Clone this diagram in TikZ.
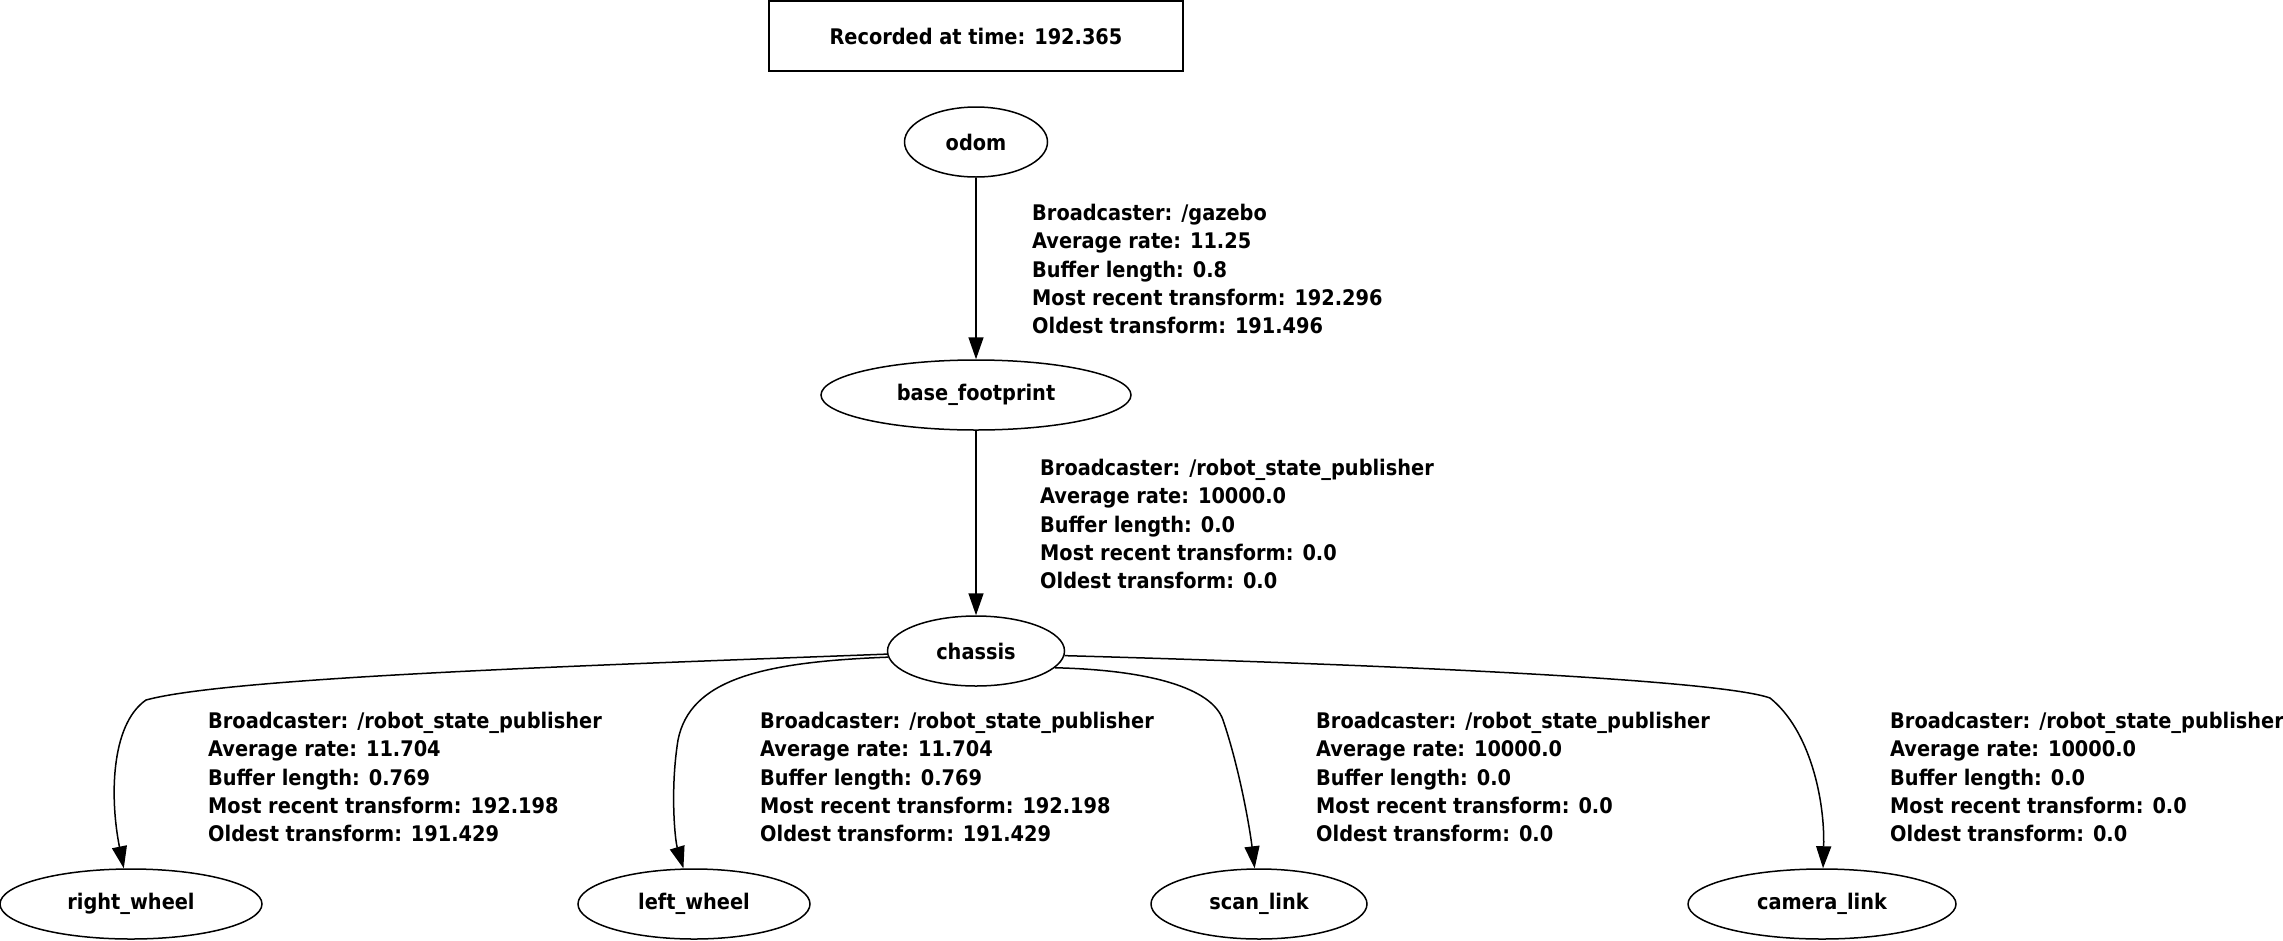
\documentclass[tikz,border=0pt]{standalone}
\usepackage{fontspec}
\setmainfont{DejaVu Sans Condensed Bold}
\usetikzlibrary{shapes.geometric,arrows.meta}
\tikzset{
  gv/.style={font=\fontsize{21.5}{28.4}\selectfont},
  frame/.style={ellipse,draw,line width=1.5pt,inner sep=0pt,minimum height=70pt,gv},
  lbl/.style={anchor=west,align=left,inner sep=0pt,gv},
  edge/.style={line width=1.5pt,-{Triangle[length=22pt,width=15pt]}},
  stamp/.style={rectangle,draw,line width=1.5pt,minimum width=414pt,minimum height=70pt,inner sep=0pt,gv}
}
\begin{document}
\begin{tikzpicture}[x=1pt,y=-1pt]
\useasboundingbox (0,0) rectangle (2283,940);
\node[stamp] (rec) at (976,36) {Recorded at time: 192.365};
\node[frame,minimum width=143pt] (odom) at (976,142) {odom};
\node[frame,minimum width=310pt] (bf) at (976,395) {base\_footprint};
\node[frame,minimum width=177pt] (chassis) at (976,651) {chassis};
\node[frame,minimum width=262pt] (rw) at (131,904) {right\_wheel};
\node[frame,minimum width=232pt] (lw) at (694,904) {left\_wheel};
\node[frame,minimum width=216pt] (sl) at (1259,904) {scan\_link};
\node[frame,minimum width=268pt] (cl) at (1822,904) {camera\_link};

\draw[edge] (odom) -- (bf);
\draw[edge] (bf) -- (chassis);
\draw[edge] (chassis.182) .. controls (600,665) and (230,677) .. (146,700) .. controls (110,725) and (110,800) .. (rw);
\draw[edge] (chassis.184) .. controls (760,662) and (690,680) .. (678,740) .. controls (670,790) and (675,840) .. (lw);
\draw[edge] (chassis.-12) .. controls (1150,670) and (1212,688) .. (1223,720) .. controls (1240,770) and (1250,830) .. (sl);
\draw[edge] (chassis.-3) .. controls (1400,665) and (1720,680) .. (1770,698) .. controls (1810,730) and (1825,800) .. (cl);

\node[lbl] (l1) at (1032,269) {Broadcaster: /gazebo\\Average rate: 11.25\\Buffer length: 0.8\\Most recent transform: 192.296\\Oldest transform: 191.496};
\node[lbl] (l2) at (1040,524) {Broadcaster: /robot\_state\_publisher\\Average rate: 10000.0\\Buffer length: 0.0\\Most recent transform: 0.0\\Oldest transform: 0.0};
\node[lbl] (l3) at (208,777) {Broadcaster: /robot\_state\_publisher\\Average rate: 11.704\\Buffer length: 0.769\\Most recent transform: 192.198\\Oldest transform: 191.429};
\node[lbl] (l4) at (760,777) {Broadcaster: /robot\_state\_publisher\\Average rate: 11.704\\Buffer length: 0.769\\Most recent transform: 192.198\\Oldest transform: 191.429};
\node[lbl] (l5) at (1316,777) {Broadcaster: /robot\_state\_publisher\\Average rate: 10000.0\\Buffer length: 0.0\\Most recent transform: 0.0\\Oldest transform: 0.0};
\node[lbl] (l6) at (1890,777) {Broadcaster: /robot\_state\_publisher\\Average rate: 10000.0\\Buffer length: 0.0\\Most recent transform: 0.0\\Oldest transform: 0.0};
\end{tikzpicture}
\end{document}
